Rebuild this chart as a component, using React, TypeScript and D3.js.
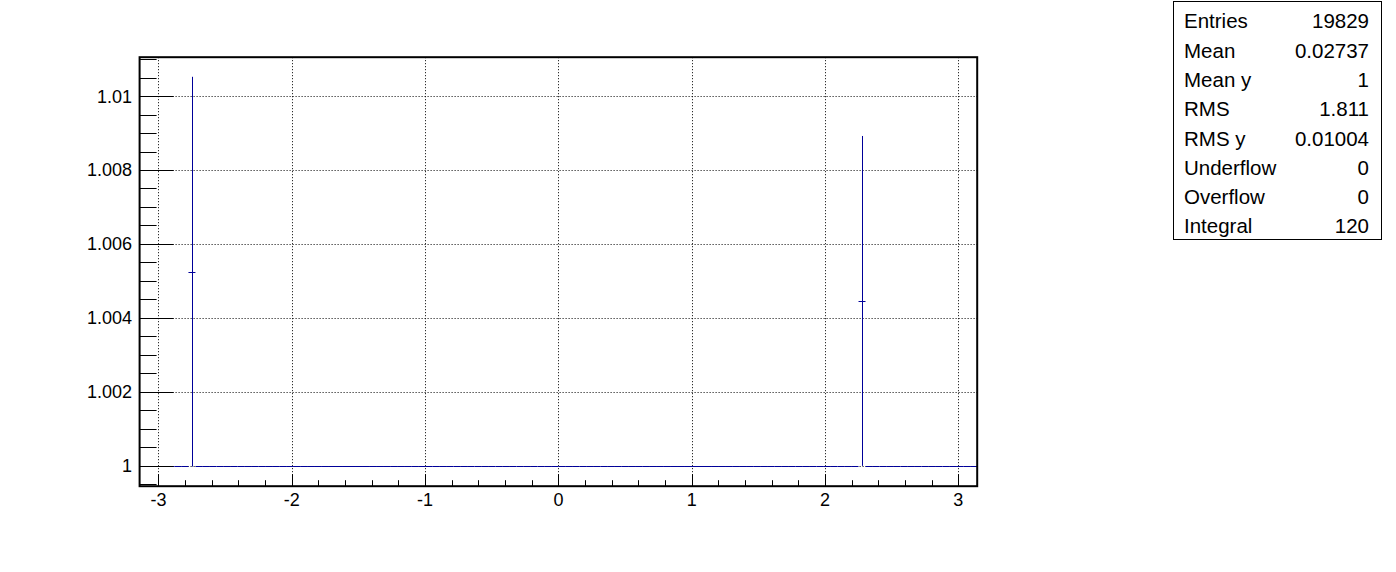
import React from "react";
import * as d3 from "d3";

// ---- data (TProfile, 120 bins over [-pi, pi]) ----
const nBins = 120;
const xRange = [-3.14159, 3.14159];
const yRange = [0.99945, 1.01105];

const binValues = [
  1, 1, 1, 1, 1, 1, 1, 1.00525, 1, 1,
  1, 1, 1, 1, 1, 1, 1, 1, 1, 1,
  1, 1, 1, 1, 1, 1, 1, 1, 1, 1,
  1, 1, 1, 1, 1, 1, 1, 1, 1, 1,
  1, 1, 1, 1, 1, 1, 1, 1, 1, 1,
  1, 1, 1, 1, 1, 1, 1, 1, 1, 1,
  1, 1, 1, 1, 1, 1, 1, 1, 1, 1,
  1, 1, 1, 1, 1, 1, 1, 1, 1, 1,
  1, 1, 1, 1, 1, 1, 1, 1, 1, 1,
  1, 1, 1, 1, 1, 1, 1, 1, 1, 1,
  1, 1, 1, 1.00446, 1, 1, 1, 1, 1, 1,
  1, 1, 1, 1, 1, 1, 1, 1, 1, 1,
];
const binErrors = [
  0, 0, 0, 0, 0, 0, 0, 0.00527, 0, 0,
  0, 0, 0, 0, 0, 0, 0, 0, 0, 0,
  0, 0, 0, 0, 0, 0, 0, 0, 0, 0,
  0, 0, 0, 0, 0, 0, 0, 0, 0, 0,
  0, 0, 0, 0, 0, 0, 0, 0, 0, 0,
  0, 0, 0, 0, 0, 0, 0, 0, 0, 0,
  0, 0, 0, 0, 0, 0, 0, 0, 0, 0,
  0, 0, 0, 0, 0, 0, 0, 0, 0, 0,
  0, 0, 0, 0, 0, 0, 0, 0, 0, 0,
  0, 0, 0, 0, 0, 0, 0, 0, 0, 0,
  0, 0, 0, 0.00446, 0, 0, 0, 0, 0, 0,
  0, 0, 0, 0, 0, 0, 0, 0, 0, 0,
];

const xMajorTicks = [-3, -2, -1, 0, 1, 2, 3];
const xTickLabels = ["-3", "-2", "-1", "0", "1", "2", "3"];
const yMajorTicks = [1, 1.002, 1.004, 1.006, 1.008, 1.01];
const yTickLabels = ["1", "1.002", "1.004", "1.006", "1.008", "1.01"];

const statLabels = ["Entries", "Mean", "Mean y", "RMS", "RMS y", "Underflow", "Overflow", "Integral"];
const statValues = ["19829", "0.02737", "1", "1.811", "0.01004", "0", "0", "120"];

// ---- layout ----
const W = 1396;
const H = 572;
const frame = { left: 139.6, right: 977.2, top: 57.2, bottom: 486.2 };
const FONT = "'Liberation Sans', Arial, Helvetica, sans-serif";
const LINE = "#000099";

export default function App() {
  const x = d3.scaleLinear().domain(xRange).range([frame.left, frame.right]);
  const y = d3.scaleLinear().domain(yRange).range([frame.bottom, frame.top]);
  const binW = (xRange[1] - xRange[0]) / nBins;

  const xMinor: number[] = [];
  for (let k = -16; k <= 16; k++) {
    const v = k * 0.2;
    if (v >= xRange[0] && v <= xRange[1]) xMinor.push(v);
  }
  const yMinor: number[] = [];
  for (let k = 0; k <= 30; k++) {
    const v = 0.9995 + k * 0.0005;
    if (v >= yRange[0] && v <= yRange[1]) yMinor.push(v);
  }
  const isMajorY = (v: number) => yMajorTicks.some((t) => Math.abs(t - v) < 1e-7);
  const isMajorX = (v: number) => xMajorTicks.some((t) => Math.abs(t - v) < 1e-7);

  const px = (v: number) => Math.round(v) + 0.5;

  const statRowY = (i: number) => 21 + i * 29.3;

  return (
    <svg
      width={W}
      height={H}
      style={{ position: "absolute", left: 0, top: 0, background: "#fff" }}
      fontFamily={FONT}
    >
      <rect x={0} y={0} width={W} height={H} fill="#fff" />
      {/* grid */}
      <g stroke="#000" strokeWidth={1} strokeDasharray="1 2" fill="none">
        {xMajorTicks.map((t) => (
          <line key={"gx" + t} x1={px(x(t))} x2={px(x(t))} y1={frame.top} y2={frame.bottom} />
        ))}
        {yMajorTicks.map((t) => (
          <line key={"gy" + t} x1={frame.left} x2={frame.right} y1={px(y(t))} y2={px(y(t))} />
        ))}
      </g>
      {/* profile bins */}
      <g stroke={LINE} strokeWidth={1} fill="none">
        {binValues.map((v, i) => {
          const lo = xRange[0] + i * binW;
          const hi = lo + binW;
          const c = lo + binW / 2;
          const e = binErrors[i];
          const yy = px(y(v));
          return (
            <g key={"b" + i}>
              <line x1={x(lo)} x2={x(hi)} y1={yy} y2={yy} />
              {e > 0 && (
                <line x1={px(x(c))} x2={px(x(c))} y1={y(v + e)} y2={y(v - e)} />
              )}
            </g>
          );
        })}
      </g>
      {/* ticks */}
      <g stroke="#000" strokeWidth={1}>
        {yMinor.map((v) => (
          <line
            key={"ty" + v}
            x1={frame.left}
            x2={frame.left + (isMajorY(v) ? 34 : 17)}
            y1={px(y(v))}
            y2={px(y(v))}
          />
        ))}
        {xMinor.map((v) => (
          <line
            key={"tx" + v}
            x1={px(x(v))}
            x2={px(x(v))}
            y1={frame.bottom}
            y2={frame.bottom - (isMajorX(v) ? 12 : 6)}
          />
        ))}
      </g>
      {/* frame */}
      <rect
        x={frame.left}
        y={frame.top}
        width={frame.right - frame.left}
        height={frame.bottom - frame.top}
        fill="none"
        stroke="#000"
        strokeWidth={2}
      />
      {/* tick labels */}
      <g fontSize={18} fill="#000">
        {xMajorTicks.map((t, i) => (
          <text key={"lx" + t} x={x(t)} y={505.5} textAnchor="middle">
            {xTickLabels[i]}
          </text>
        ))}
        {yMajorTicks.map((t, i) => (
          <text key={"ly" + t} x={132} y={y(t) + 6.5} textAnchor="end">
            {yTickLabels[i]}
          </text>
        ))}
      </g>
      {/* stats box */}
      <rect x={1173.5} y={1.5} width={208} height={238} fill="#fff" stroke="#000" strokeWidth={1} />
      <g fontSize={20.5} fill="#000">
        {statLabels.map((l, i) => (
          <text key={"sl" + i} x={1184} y={statRowY(i) + 7.3}>
            {l}
          </text>
        ))}
        {statValues.map((v, i) => (
          <text key={"sv" + i} x={1369} y={statRowY(i) + 7.3} textAnchor="end">
            {v}
          </text>
        ))}
      </g>
    </svg>
  );
}
